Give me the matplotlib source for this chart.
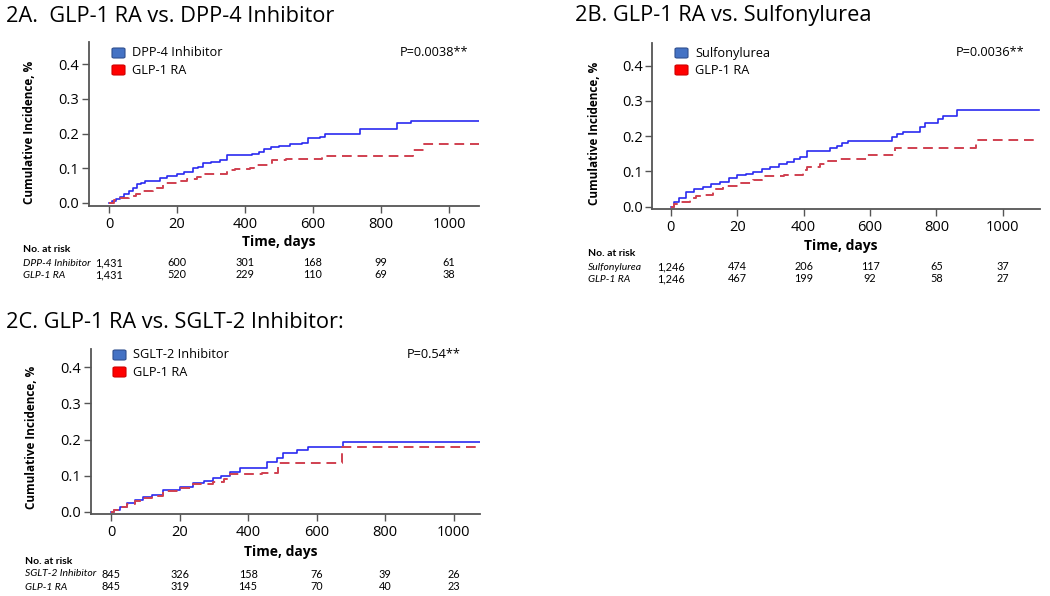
import matplotlib
matplotlib.use("Agg")
import matplotlib.pyplot as plt
from matplotlib.patches import FancyBboxPatch
from matplotlib.transforms import blended_transform_factory

plt.rcParams['font.family'] = ['Open Sans', 'DejaVu Sans']

W, H = 1050, 596

# ---------------- data ----------------
x_ticks = [0, 200, 400, 600, 800, 1000]
x_tick_labels = ["0", "20", "400", "600", "800", "1000"]
y_ticks = [0.0, 0.1, 0.2, 0.3, 0.4]

# Panel 2A
a_title = "2A.  GLP-1 RA vs. DPP-4 Inhibitor"
a_labels = ["DPP-4 Inhibitor", "GLP-1 RA"]
a_pvalue = "P=0.0038**"
a_comp_t = [0, 10, 20, 32, 45, 60, 70, 81, 95, 106, 150, 170, 199, 220, 248, 262, 277, 300, 326, 346,
            420, 440, 455, 475, 500, 532, 568, 586, 620, 635, 738, 846, 887, 1088]
a_comp_v = [0, 0.006, 0.011, 0.018, 0.026, 0.035, 0.042, 0.054, 0.058, 0.063, 0.071, 0.077, 0.085, 0.09,
            0.1, 0.104, 0.114, 0.117, 0.124, 0.138, 0.142, 0.148, 0.155, 0.162, 0.164, 0.17, 0.173, 0.188,
            0.19, 0.198, 0.212, 0.23, 0.237, 0.237]
a_glp_t = [0, 15, 30, 60, 80, 101, 130, 160, 199, 230, 258, 277, 346, 370, 415, 425, 470, 480, 520, 625,
           895, 925, 1088]
a_glp_v = [0, 0.008, 0.013, 0.02, 0.027, 0.035, 0.043, 0.057, 0.062, 0.069, 0.076, 0.083, 0.095, 0.097,
           0.1, 0.11, 0.114, 0.124, 0.127, 0.136, 0.153, 0.17, 0.17]
a_risk_comp = ["1,431", "600", "301", "168", "99", "61"]
a_risk_glp = ["1,431", "520", "229", "110", "69", "38"]

# Panel 2B
b_title = "2B. GLP-1 RA vs. Sulfonylurea"
b_labels = ["Sulfonylurea", "GLP-1 RA"]
b_pvalue = "P=0.0036**"
b_comp_t = [0, 10, 25, 47, 70, 97, 120, 148, 175, 198, 225, 248, 275, 298, 325, 349, 370, 389, 409, 479,
            500, 514, 534, 665, 680, 700, 750, 765, 806, 821, 861, 1110]
b_comp_v = [0, 0.012, 0.026, 0.042, 0.05, 0.057, 0.063, 0.071, 0.08, 0.09, 0.094, 0.099, 0.106, 0.113,
            0.12, 0.127, 0.135, 0.142, 0.159, 0.165, 0.173, 0.181, 0.187, 0.198, 0.205, 0.212, 0.227,
            0.236, 0.248, 0.258, 0.273, 0.273]
b_glp_t = [0, 10, 27, 57, 75, 97, 127, 157, 208, 248, 273, 340, 399, 409, 449, 474, 509, 590, 675, 920, 1110]
b_glp_v = [0, 0.008, 0.014, 0.024, 0.03, 0.033, 0.049, 0.059, 0.066, 0.076, 0.088, 0.091, 0.104, 0.113,
           0.121, 0.129, 0.136, 0.146, 0.167, 0.19, 0.19]
b_risk_comp = ["1,246", "474", "206", "117", "65", "37"]
b_risk_glp = ["1,246", "467", "199", "92", "58", "27"]

# Panel 2C
c_title = "2C. GLP-1 RA vs. SGLT-2 Inhibitor:"
c_labels = ["SGLT-2 Inhibitor", "GLP-1 RA"]
c_pvalue = "P=0.54**"
c_comp_t = [0, 10, 25, 46, 70, 94, 120, 153, 201, 240, 270, 298, 320, 347, 376, 454, 483, 503, 542, 576,
            676, 1078]
c_comp_v = [0, 0.006, 0.014, 0.024, 0.032, 0.041, 0.048, 0.061, 0.07, 0.081, 0.086, 0.093, 0.1, 0.111,
            0.121, 0.137, 0.148, 0.162, 0.171, 0.18, 0.193, 0.193]
c_glp_t = [0, 10, 25, 46, 70, 94, 120, 153, 201, 240, 298, 330, 347, 440, 488, 673, 1078]
c_glp_v = [0, 0.005, 0.013, 0.022, 0.03, 0.038, 0.045, 0.057, 0.067, 0.076, 0.083, 0.09, 0.105, 0.108,
           0.134, 0.178, 0.178]
c_risk_comp = ["845", "326", "158", "76", "39", "26"]
c_risk_glp = ["845", "319", "145", "70", "40", "23"]

# ---------------- styling ----------------
BLUE_LINE = "#2a2af0"
RED_LINE = "#d04050"
BLUE_PATCH = "#4472c4"
RED_PATCH = "#ff0000"
SPINE = "#555555"


def fx(x):
    return x / W


def fy(y):
    return 1 - y / H


fig = plt.figure(figsize=(W / 100, H / 100), dpi=100)


def panel(box, xlim, ylim, title, title_xy, labels, pvalue, comp, glp, risks, risk_x, risk_ys,
          ylabel_xy, xlabel_y, legend_xy, p_xy):
    left, top, right, bottom = box
    ax = fig.add_axes([fx(left), fy(bottom), fx(right) - fx(left), fy(top) - fy(bottom)])
    ax.step(comp[0], comp[1], where='post', color=BLUE_LINE, lw=1.2)
    ax.step(glp[0], glp[1], where='post', color=RED_LINE, lw=1.4, linestyle=(0, (5, 3)))
    ax.set_xlim(*xlim)
    ax.set_ylim(*ylim)
    ax.set_xticks(x_ticks)
    ax.set_xticklabels(x_tick_labels)
    ax.set_yticks(y_ticks)
    ax.set_yticklabels([f"{v:.1f}" for v in y_ticks])
    for s in ['top', 'right']:
        ax.spines[s].set_visible(False)
    for s in ['left', 'bottom']:
        ax.spines[s].set_color(SPINE)
        ax.spines[s].set_linewidth(1.3)
    ax.tick_params(axis='both', colors=SPINE, length=5, width=1.0, labelsize=10.5, labelcolor='black')
    ax.tick_params(axis='x', pad=3)
    ax.tick_params(axis='y', pad=2)

    fig.text(fx(title_xy[0]), fy(title_xy[1]), title, fontsize=15.7, ha='left', va='center')
    fig.text(fx(ylabel_xy[0]), fy(ylabel_xy[1]), "Cumulative Incidence, %", rotation=90,
             fontsize=8.5, fontweight='bold', ha='center', va='center')
    fig.text(fx((left + right) / 2 - 5), fy(xlabel_y), "Time, days", fontsize=10,
             fontweight='bold', ha='center', va='center')

    # legend
    lx, ly = legend_xy
    for i, (lab, fc, ec) in enumerate(zip(labels, [BLUE_PATCH, RED_PATCH], ["#2f4f8f", "#d00000"])):
        yy = ly + i * 17
        patch = FancyBboxPatch((fx(lx), fy(yy + 5)), fx(13), 10 / H,
                               boxstyle="round,pad=0,rounding_size=0.002",
                               transform=fig.transFigure, facecolor=fc, edgecolor=ec, lw=0.8)
        fig.add_artist(patch)
        fig.text(fx(lx + 20), fy(yy), lab, fontsize=9.2, ha='left', va='center')
    fig.text(fx(p_xy[0]), fy(p_xy[1]), pvalue, fontsize=9.2, ha='left', va='center')

    # risk table
    trans = blended_transform_factory(ax.transData, fig.transFigure)
    fig.text(fx(risk_x), fy(risk_ys[0]), "No. at risk", fontsize=7.5, fontweight='bold',
             ha='left', va='center', family=['Lato', 'DejaVu Sans'])
    for row, (lab, vals) in enumerate(zip(labels, risks)):
        yv = fy(risk_ys[row + 1])
        fig.text(fx(risk_x), yv, lab, fontsize=7.5, style='italic', ha='left', va='center',
                 family=['Lato', 'DejaVu Sans'])
        for xt, v in zip(x_ticks, vals):
            ax.text(xt, yv, v, transform=trans, fontsize=7.8, ha='center', va='center',
                    family=['Lato', 'DejaVu Sans'])
    return ax


panel((89, 41.7, 479, 206), (-59, 1088), (-0.0087, 0.465), a_title, (6, 16), a_labels, a_pvalue,
      (a_comp_t, a_comp_v), (a_glp_t, a_glp_v), (a_risk_comp, a_risk_glp), 23, (250, 263, 275),
      (30, 132), 242, (112, 53), (400, 53))

panel((652.3, 43, 1040, 209), (-56, 1112), (-0.0065, 0.464), b_title, (575, 16), b_labels, b_pvalue,
      (b_comp_t, b_comp_v), (b_glp_t, b_glp_v), (b_risk_comp, b_risk_glp), 588, (254, 267, 279),
      (595, 133), 246, (675, 53), (956, 53))

panel((91, 349.3, 480.3, 514.3), (-58.4, 1077.6), (-0.0064, 0.449), c_title, (6, 322.7), c_labels,
      c_pvalue, (c_comp_t, c_comp_v), (c_glp_t, c_glp_v), (c_risk_comp, c_risk_glp), 25,
      (561, 574, 587), (32, 437), 552, (113, 355), (407, 355))

fig.savefig("out.png", dpi=100, facecolor='white')
